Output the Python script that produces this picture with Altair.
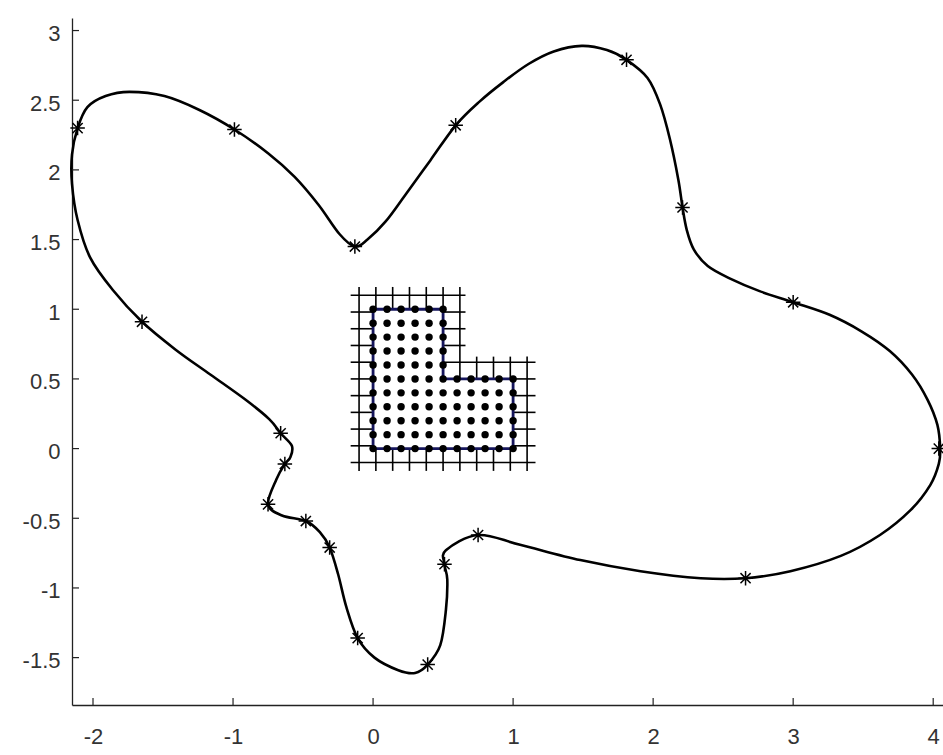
import altair as alt
import pandas as pd

# Closed outer boundary curve (x, y), traced counter-clockwise from the right-most point
curve_x = [4.05, 4.03, 3.96, 3.85, 3.69, 3.49, 3.26, 3.00, 2.76, 2.55, 2.39, 2.29, 2.24, 2.21,
           2.18, 2.12, 2.05, 1.96, 1.81, 1.67, 1.49, 1.29, 1.11, 0.93, 0.76, 0.59, 0.41, 0.23,
           0.09, -0.04, -0.13, -0.24, -0.39, -0.56, -0.75, -0.99, -1.24, -1.49, -1.74, -1.91,
           -2.04, -2.11, -2.15, -2.15, -2.11, -2.02, -1.86, -1.65, -1.41, -1.16, -0.91, -0.74,
           -0.66, -0.58, -0.59, -0.63, -0.69, -0.75, -0.65, -0.48, -0.38, -0.31, -0.25, -0.19,
           -0.11, 0.01, 0.18, 0.30, 0.39, 0.48, 0.52, 0.53, 0.51, 0.52, 0.75, 1.05, 1.48,
           1.91, 2.34, 2.66, 2.98, 3.34, 3.62, 3.84, 3.98, 4.04]
curve_y = [0.00, 0.17, 0.35, 0.53, 0.70, 0.84, 0.96, 1.05, 1.13, 1.22, 1.31, 1.43, 1.57, 1.73,
           1.93, 2.22, 2.47, 2.66, 2.79, 2.86, 2.89, 2.85, 2.76, 2.63, 2.49, 2.32, 2.07, 1.82,
           1.63, 1.50, 1.45, 1.54, 1.75, 1.95, 2.12, 2.29, 2.43, 2.53, 2.56, 2.53,
           2.45, 2.30, 2.11, 1.90, 1.64, 1.37, 1.14, 0.91, 0.71, 0.53, 0.35, 0.21,
           0.11, 0.02, -0.06, -0.11, -0.22, -0.40, -0.48, -0.52, -0.60, -0.71, -0.90, -1.14,
           -1.36, -1.50, -1.59, -1.61, -1.55, -1.41, -1.16, -0.94, -0.83, -0.73, -0.62,
           -0.69, -0.80, -0.88, -0.93, -0.93, -0.88, -0.77, -0.62, -0.44, -0.26, -0.11]

# Collocation points on the curve
star_x = [4.04, 3.00, 2.21, 1.81, 0.59, -0.13, -0.99, -2.11, -1.65, -0.66,
          -0.63, -0.75, -0.48, -0.31, -0.11, 0.39, 0.51, 0.75, 2.66]
star_y = [0.00, 1.05, 1.73, 2.79, 2.32, 1.45, 2.29, 2.30, 0.91, 0.11,
          -0.11, -0.40, -0.52, -0.71, -1.36, -1.55, -0.83, -0.62, -0.93]

# L-shaped inner domain: corner points and interior node grid
l_x = [0.0, 1.0, 1.0, 0.5, 0.5, 0.0, 0.0]
l_y = [0.0, 0.0, 0.5, 0.5, 1.0, 1.0, 0.0]
node_vals = [0.0, 0.1, 0.2, 0.3, 0.4, 0.5, 0.6, 0.7, 0.8, 0.9, 1.0]

# Exterior mesh lines surrounding the L-shape
mesh_vals = [-0.1, 0.02, 0.14, 0.26, 0.38, 0.5, 0.62, 0.74, 0.86, 0.98, 1.1]
band_lo, band_hi, notch_hi = -0.16, 1.16, 0.66

x_ticks = [-2, -1, 0, 1, 2, 3, 4]
y_ticks = [-1.5, -1, -0.5, 0, 0.5, 1, 1.5, 2, 2.5, 3]

W, H = 871, 687
xs = alt.Scale(domain=[-2.15, 4.07], nice=False, zero=False)
ys = alt.Scale(domain=[-1.84, 3.09], nice=False, zero=False)


def mesh_segments(v):
    """Pieces of a mesh line at coordinate v that lie outside the L-shape."""
    if v < 0:
        return [(band_lo, band_hi)]
    if v <= 0.5:
        return [(band_lo, 0.0), (1.0, band_hi)]
    if v < 0.7:
        return [(band_lo, 0.0), (0.5, band_hi)]
    if v <= 1.0:
        return [(band_lo, 0.0), (0.5, notch_hi)]
    return [(band_lo, notch_hi)]


vert = [dict(x=v, a=a, b=b) for v in mesh_vals for a, b in mesh_segments(v)]
horz = [dict(y=v, a=a, b=b) for v in mesh_vals for a, b in mesh_segments(v)]
nodes = [dict(x=px, y=py) for px in node_vals for py in node_vals
         if py <= 0.5 + 1e-9 or px <= 0.5 + 1e-9]

curve_df = pd.DataFrame({"x": curve_x, "y": curve_y, "i": range(len(curve_x))})
star_df = pd.DataFrame({"x": star_x, "y": star_y})
l_df = pd.DataFrame({"x": l_x, "y": l_y, "i": range(len(l_x))})

font = "Liberation Sans"
label_col = "#333333"

x_axis = alt.Axis(title="", values=x_ticks, ticks=False, grid=False, domainColor="#222",
                  domainWidth=1.3, labelFont=font, labelFontSize=22, labelColor=label_col,
                  labelPadding=21, labelExpr="'' + datum.value")
y_axis = alt.Axis(title="", values=y_ticks, ticks=False, grid=False, domainColor="#222",
                  domainWidth=1.3, labelFont=font, labelFontSize=22, labelColor=label_col,
                  labelPadding=12, labelOffset=3, labelExpr="'' + datum.value")


def X(field):
    return alt.X(field, scale=xs, axis=x_axis)


def Y(field):
    return alt.Y(field, scale=ys, axis=y_axis)


curve = alt.Chart(curve_df).mark_line(
    interpolate="cardinal-closed", color="black", strokeWidth=2.6
).encode(x=X("x:Q"), y=Y("y:Q"), order="i:Q")

mesh_v = alt.Chart(pd.DataFrame(vert)).mark_rule(color="black", strokeWidth=1.6).encode(
    x=X("x:Q"), y=Y("a:Q"), y2="b:Q"
)
mesh_h = alt.Chart(pd.DataFrame(horz)).mark_rule(color="black", strokeWidth=1.6).encode(
    y=Y("y:Q"), x=X("a:Q"), x2="b:Q"
)

dots = alt.Chart(pd.DataFrame(nodes)).mark_circle(size=55, color="black", opacity=1).encode(
    x=X("x:Q"), y=Y("y:Q")
)

l_edge = alt.Chart(l_df).mark_line(color="#16165c", strokeWidth=2.8).encode(
    x=X("x:Q"), y=Y("y:Q"), order="i:Q"
)

star_path = "M-1,0L1,0M0,-1L0,1M-0.7,-0.7L0.7,0.7M-0.7,0.7L0.7,-0.7"
stars = alt.Chart(star_df).mark_point(
    shape=star_path, size=210, filled=False, stroke="black", strokeWidth=1.5, opacity=1
).encode(x=X("x:Q"), y=Y("y:Q"))

x_tick_marks = alt.Chart(pd.DataFrame({"v": x_ticks})).mark_rule(
    color="#222", strokeWidth=1.2
).encode(x=X("v:Q"), y=alt.value(H), y2=alt.value(H - 7))
y_tick_marks = alt.Chart(pd.DataFrame({"v": y_ticks})).mark_rule(
    color="#222", strokeWidth=1.2
).encode(y=Y("v:Q"), x=alt.value(0), x2=alt.value(7))

chart = alt.layer(
    curve, mesh_v, mesh_h, l_edge, dots, stars, x_tick_marks, y_tick_marks
).properties(
    width=W,
    height=H,
    autosize=alt.AutoSizeParams(type="none"),
    padding={"left": 72, "top": 18, "right": 0, "bottom": 50},
    background="white",
).configure_view(strokeWidth=0)

chart.save("out.html", embed_options={"renderer": "svg", "actions": False})
